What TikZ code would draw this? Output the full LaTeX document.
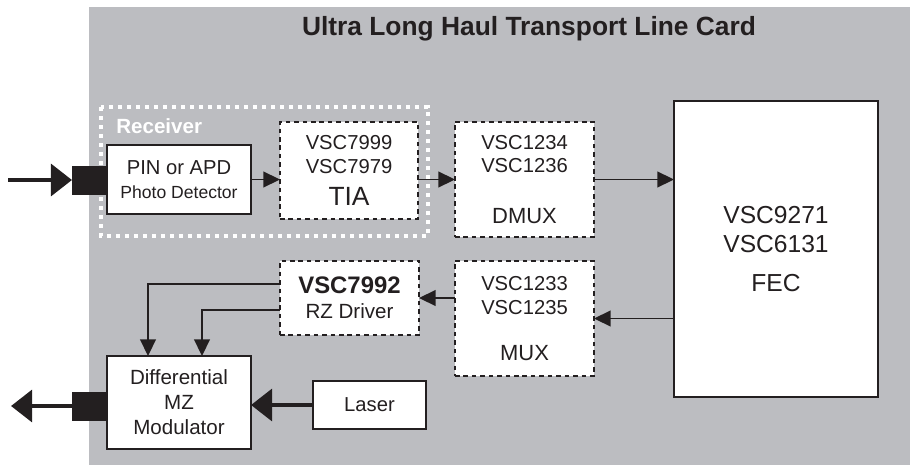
\documentclass[tikz,border=0pt]{standalone}
\usepackage{fontspec}
\setmainfont{Liberation Sans}
\usetikzlibrary{arrows.meta}
\definecolor{cardgray}{RGB}{188,189,193}
\definecolor{ink}{RGB}{35,31,32}

\begin{document}
\begin{tikzpicture}[x=0.02cm, y=-0.02cm,
    block/.style={draw=ink, line width=0.9pt, fill=white, inner sep=0pt, outer sep=0pt,
        align=center, text=ink, font={\fontsize{11.5}{13.6}\selectfont}},
    chip/.style={block, dash pattern=on 2.6pt off 2.2pt},
    plug/.style={fill=ink, draw=ink, inner sep=0pt, outer sep=0pt,
        minimum width=0.7cm, minimum height=0.56cm},
    sig/.style={draw=ink, line width=0.9pt, -{Triangle[length=9.5pt, width=9pt]}},
    fibre/.style={draw=ink, line width=2.6pt, -{Triangle[length=12pt, width=18pt]}}]
    \useasboundingbox (0,0) rectangle (915,466);

    % Line card
    \fill[cardgray] (89,7) rectangle (910,465);
    \node[text=ink, font={\bfseries\fontsize{15}{18}\selectfont}] (title) at (529,29)
        {Ultra Long Haul Transport Line Card};

    % Receiver
    \draw[white, line width=0.08cm, dash pattern=on 0.08cm off 0.1cm] (101,107) rectangle (428,236);
    \node[anchor=west, inner sep=0pt, text=white, font={\bfseries\fontsize{11.7}{14}\selectfont}]
        (rxlabel) at (116,126) {Receiver};
    \node[block, minimum width=2.88cm, minimum height=1.38cm] (pin) at (179,179.5)
        {PIN or APD\\{\fontsize{10}{12}\selectfont Photo Detector}};
    \node[chip, minimum width=2.76cm, minimum height=1.94cm] (tia) at (349,170.5)
        {VSC7999\\VSC7979\\[4.7pt]{\fontsize{15}{18}\selectfont TIA}};

    % Framing and FEC
    \node[chip, minimum width=2.78cm, minimum height=2.3cm] (dmux) at (524.5,179.5)
        {VSC1234\\VSC1236\\[15.4pt]{\fontsize{12.5}{15}\selectfont DMUX}};
    \node[chip, minimum width=2.78cm, minimum height=2.3cm] (mux) at (524.5,318.5)
        {VSC1233\\VSC1235\\[13pt]{\fontsize{12.5}{15}\selectfont MUX}};
    \node[block, minimum width=4.08cm, minimum height=5.92cm, font={\fontsize{14}{16.4}\selectfont}]
        (fec) at (776,249) {VSC9271\\VSC6131\\[5.6pt]FEC};

    % Transmitter
    \node[chip, minimum width=2.78cm, minimum height=1.48cm, font={\fontsize{11.7}{14.2}\selectfont}]
        (drv) at (349.5,298) {{\bfseries\fontsize{13.6}{16}\selectfont VSC7992}\\RZ Driver};
    \node[block, minimum width=2.88cm, minimum height=1.86cm, font={\fontsize{11.7}{14.2}\selectfont}]
        (mz) at (179,402.5) {Differential\\MZ\\Modulator};
    \node[block, minimum width=2.26cm, minimum height=0.96cm] (laser) at (369.5,405) {Laser};

    % Fibre connectors
    \node[plug] (inplug) at (89.5,180) {};
    \node[plug, minimum width=0.68cm] (outplug) at (89,406) {};
    \coordinate (fibrein) at (8,180);
    \coordinate (fibreout) at (11,406);

    % Signal paths
    \draw[fibre] (fibrein) -- (inplug.west);
    \draw[sig] (pin.east) -- (pin.east -| tia.west);
    \draw[sig] (dmux.west -| tia.east) -- (dmux.west);
    \draw[sig] (dmux.east) -- (dmux.east -| fec.west);
    \draw[sig] (mux.east -| fec.west) -- (mux.east);
    \draw[sig] (drv.east -| mux.west) -- (drv.east);
    \draw[sig] ([yshift=0.28cm]drv.west) -| ([xshift=-0.62cm]mz.north);
    \draw[sig] ([yshift=-0.24cm]drv.west) -| ([xshift=0.46cm]mz.north);
    \draw[fibre] (laser.west) -- (laser.west -| mz.east);
    \draw[fibre] (outplug.west) -- (fibreout);
\end{tikzpicture}
\end{document}
